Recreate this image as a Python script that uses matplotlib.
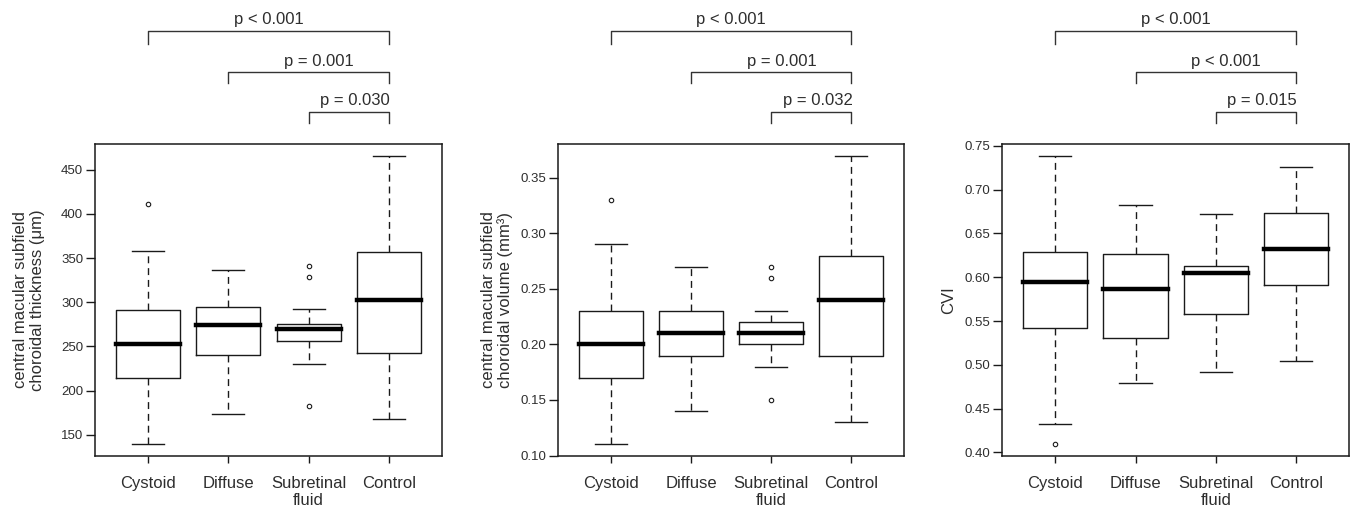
import matplotlib
matplotlib.use("Agg")
import matplotlib.pyplot as plt
from matplotlib.transforms import blended_transform_factory

plt.rcParams['font.family'] = ['Liberation Sans', 'DejaVu Sans']

categories = ["Cystoid", "Diffuse", "Subretinal\nfluid", "Control"]

# Panel 1: central macular subfield choroidal thickness (um)
cmt_whislo = [139, 173, 230, 168]
cmt_q1 = [214, 240, 256, 243]
cmt_med = [253, 274, 270, 302]
cmt_q3 = [291, 295, 275, 357]
cmt_whishi = [358, 336, 292, 466]
cmt_fliers = [[411], [], [341, 328, 183], []]
cmt_ticks = [150, 200, 250, 300, 350, 400, 450]
cmt_ticklabels = ["150", "200", "250", "300", "350", "400", "450"]
cmt_p = ["p < 0.001", "p = 0.001", "p = 0.030"]

# Panel 2: central macular subfield choroidal volume (mm3)
cmv_whislo = [0.11, 0.14, 0.18, 0.13]
cmv_q1 = [0.17, 0.19, 0.20, 0.19]
cmv_med = [0.20, 0.21, 0.21, 0.24]
cmv_q3 = [0.23, 0.23, 0.22, 0.28]
cmv_whishi = [0.29, 0.27, 0.23, 0.37]
cmv_fliers = [[0.33], [], [0.27, 0.26, 0.15], []]
cmv_ticks = [0.10, 0.15, 0.20, 0.25, 0.30, 0.35]
cmv_ticklabels = ["0.10", "0.15", "0.20", "0.25", "0.30", "0.35"]
cmv_p = ["p < 0.001", "p = 0.001", "p = 0.032"]

# Panel 3: CVI
cvi_whislo = [0.432, 0.479, 0.492, 0.504]
cvi_q1 = [0.542, 0.531, 0.558, 0.591]
cvi_med = [0.595, 0.586, 0.605, 0.632]
cvi_q3 = [0.629, 0.626, 0.613, 0.673]
cvi_whishi = [0.739, 0.682, 0.672, 0.726]
cvi_fliers = [[0.409], [], [], []]
cvi_ticks = [0.40, 0.45, 0.50, 0.55, 0.60, 0.65, 0.70, 0.75]
cvi_ticklabels = ["0.40", "0.45", "0.50", "0.55", "0.60", "0.65", "0.70", "0.75"]
cvi_p = ["p < 0.001", "p < 0.001", "p = 0.015"]

ylabels = ["central macular subfield\nchoroidal thickness (\u03bcm)",
           "central macular subfield\nchoroidal volume (mm\u00b3)",
           "CVI"]

# comparisons: group index (1-based) against Control (4)
comp_from = [1, 2, 3]
comp_to = [4, 4, 4]

panels = [
    (cmt_whislo, cmt_q1, cmt_med, cmt_q3, cmt_whishi, cmt_fliers, cmt_ticks, cmt_ticklabels, cmt_p),
    (cmv_whislo, cmv_q1, cmv_med, cmv_q3, cmv_whishi, cmv_fliers, cmv_ticks, cmv_ticklabels, cmv_p),
    (cvi_whislo, cvi_q1, cvi_med, cvi_q3, cvi_whishi, cvi_fliers, cvi_ticks, cvi_ticklabels, cvi_p),
]

W, H = 1351, 512
fig = plt.figure(figsize=(W / 100, H / 100), dpi=100)

ax_left_px = [95, 558.3, 1002.3]
ax_w_px = [347, 346, 346.7]
ax_top_px, ax_bot_px = 144, 456
ylabel_off_px = [66, 61, 54]

line_col = "#1a1a1a"
text_col = "#2e2e2e"

# bracket geometry (axes fraction)
br_top = [1.362, 1.231, 1.103]
br_bot = [1.320, 1.196, 1.067]
txt_y = [1.400, 1.266, 1.138]
txt_x = [2.5, 3.13, 3.58]

for i, (wlo, q1, med, q3, whi, fl, ticks, tlabels, pvals) in enumerate(panels):
    ax = fig.add_axes([ax_left_px[i] / W, 1 - ax_bot_px / H,
                       ax_w_px[i] / W, (ax_bot_px - ax_top_px) / H])
    stats = []
    for k in range(len(categories)):
        stats.append(dict(med=med[k], q1=q1[k], q3=q3[k],
                          whislo=wlo[k], whishi=whi[k], fliers=fl[k]))
    ax.bxp(stats, positions=[1, 2, 3, 4], widths=0.8, showfliers=True,
           boxprops=dict(color=line_col, linewidth=1.0),
           medianprops=dict(color="black", linewidth=3.2, solid_capstyle="projecting"),
           whiskerprops=dict(color=line_col, linewidth=1.0, linestyle=(0, (5, 3.5))),
           capprops=dict(color=line_col, linewidth=1.0),
           flierprops=dict(marker="o", markersize=3.2, markerfacecolor="white",
                           markeredgecolor=line_col, markeredgewidth=0.8))
    ax.set_xlim(0.34, 4.66)
    lo = min(wlo + [v for f in fl for v in f])
    hi = max(whi + [v for f in fl for v in f])
    pad = 0.04 * (hi - lo)
    ax.set_ylim(lo - pad, hi + pad)
    ax.set_xticks([1, 2, 3, 4])
    ax.set_xticklabels(categories, fontsize=12, color=text_col, linespacing=1.2)
    ax.set_yticks(ticks)
    ax.set_yticklabels(tlabels, fontsize=9.5, color=text_col)
    ax.tick_params(axis="x", length=5.3, width=1.0, pad=9, color=line_col)
    ax.tick_params(axis="y", length=6.5, width=1.0, pad=2, color=line_col)
    for s in ax.spines.values():
        s.set_linewidth(1.1)
        s.set_color(line_col)
    ax.set_ylabel(ylabels[i], fontsize=12, color=text_col, linespacing=1.1, va="center")
    ax.yaxis.set_label_coords(-ylabel_off_px[i] / ax_w_px[i], 0.5)

    tr = blended_transform_factory(ax.transData, ax.transAxes)
    for j in range(3):
        x1, x2 = comp_from[j], comp_to[j]
        ax.plot([x1, x1, x2, x2], [br_bot[j], br_top[j], br_top[j], br_bot[j]],
                transform=tr, clip_on=False, color="#333333", linewidth=1.0)
        ax.text(txt_x[j], txt_y[j], pvals[j], transform=tr, ha="center", va="center",
                fontsize=12, color=text_col)

fig.savefig("out.png", dpi=100)
